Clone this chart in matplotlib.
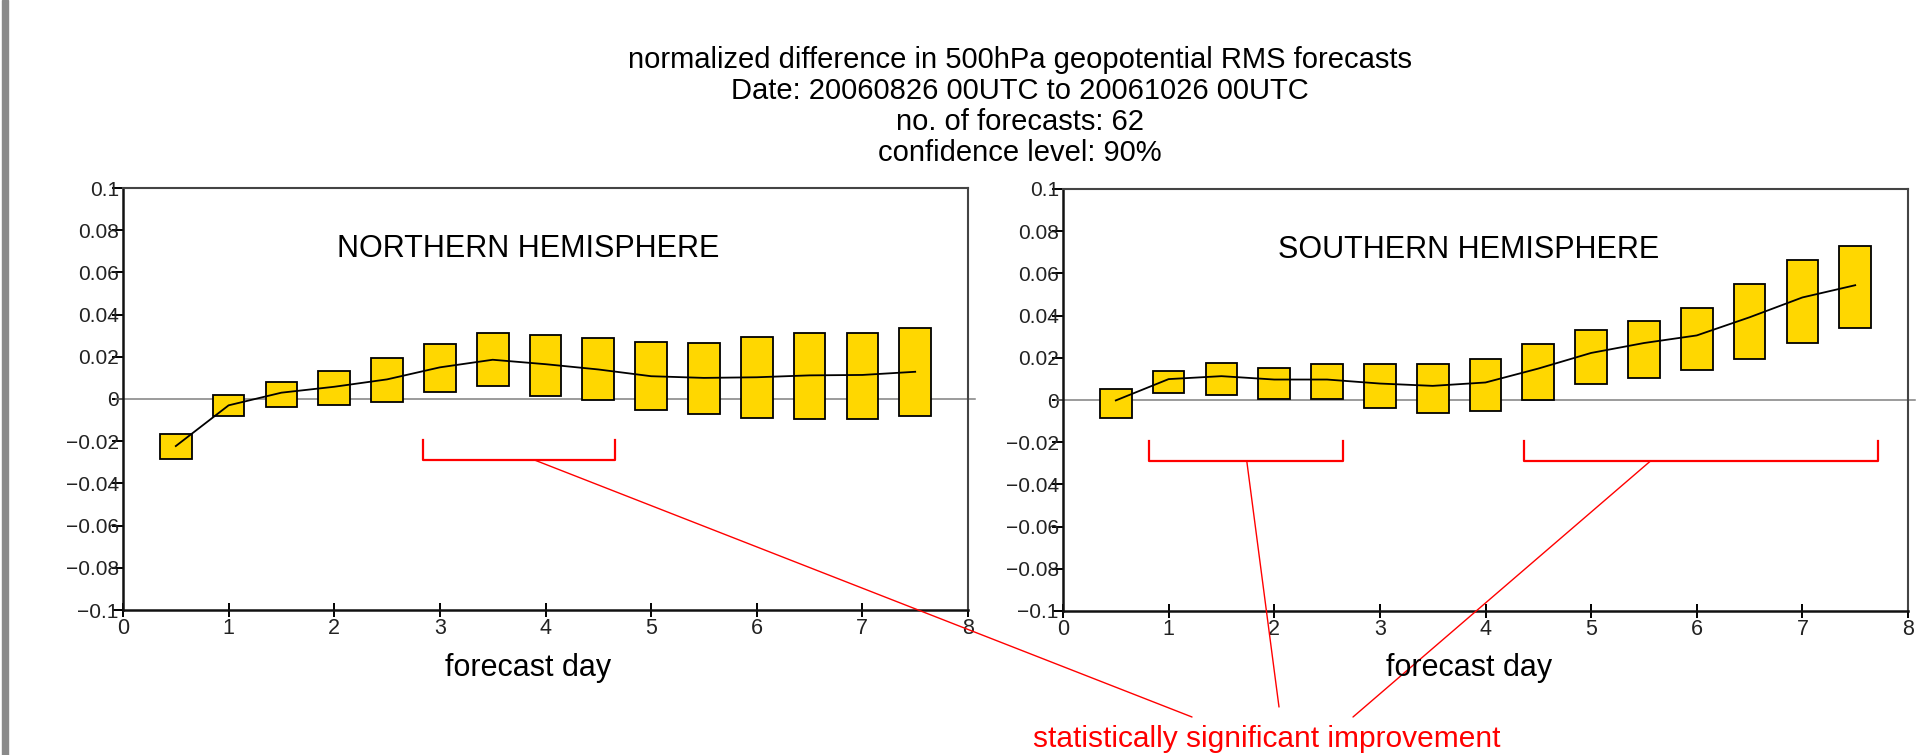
import matplotlib
matplotlib.use("Agg")
import matplotlib.pyplot as plt
from matplotlib.patches import Rectangle
import numpy as np

plt.rcParams['font.family'] = ['Liberation Sans', 'DejaVu Sans']

# ---------------- data ----------------
days = [0.5, 1.0, 1.5, 2.0, 2.5, 3.0, 3.5, 4.0, 4.5, 5.0, 5.5, 6.0, 6.5, 7.0, 7.5]

nh_upper = [-0.0167, 0.0020, 0.0082, 0.0135, 0.0195, 0.0263, 0.0311, 0.0305,
            0.0289, 0.0269, 0.0267, 0.0296, 0.0313, 0.0313, 0.0336]
nh_lower = [-0.0286, -0.0079, -0.0036, -0.0027, -0.0016, 0.0035, 0.0060, 0.0016,
            -0.0006, -0.0050, -0.0069, -0.0091, -0.0093, -0.0093, -0.0079]
nh_mean = [-0.0223, -0.0030, 0.0030, 0.0058, 0.0093, 0.0150, 0.0186, 0.0165,
           0.0140, 0.0108, 0.0100, 0.0103, 0.0112, 0.0114, 0.0129]

sh_upper = [0.0052, 0.0139, 0.0174, 0.0154, 0.0171, 0.0171, 0.0172, 0.0196,
            0.0265, 0.0332, 0.0376, 0.0436, 0.0552, 0.0663, 0.0730]
sh_lower = [-0.0086, 0.0033, 0.0025, 0.0005, 0.0005, -0.0038, -0.0061, -0.0053,
            0.0000, 0.0075, 0.0102, 0.0141, 0.0194, 0.0271, 0.0339]
sh_mean = [-0.0002, 0.0099, 0.0113, 0.0097, 0.0097, 0.0078, 0.0067, 0.0083,
           0.0149, 0.0223, 0.0270, 0.0306, 0.0392, 0.0486, 0.0544]

xticks = [0, 1, 2, 3, 4, 5, 6, 7, 8]
yticks = [-0.1, -0.08, -0.06, -0.04, -0.02, 0, 0.02, 0.04, 0.06, 0.08, 0.1]
ytick_labels = ['\u22120.1', '\u22120.08', '\u22120.06', '\u22120.04', '\u22120.02', '0',
                '0.02', '0.04', '0.06', '0.08', '0.1']

title_lines = ["normalized difference in 500hPa geopotential RMS forecasts",
               "Date: 20060826 00UTC to 20061026 00UTC",
               "no. of forecasts: 62",
               "confidence level: 90%"]

# significance brackets (start day, end day) and connector start day
nh_sig = [(2.84, 4.66)]
nh_conn = [3.9]
sh_sig = [(0.815, 2.65), (4.36, 7.72)]
sh_conn = [1.74, 5.56]

# ---------------- figure ----------------
W, H = 1929, 755
fig = plt.figure(figsize=(W / 100, H / 100), dpi=100)
fig.patch.set_facecolor('white')

def fx(px):
    return px / W

def fy(py):
    return 1 - py / H

fig.patches.append(Rectangle((fx(2), 0), fx(6), 1, transform=fig.transFigure,
                             color='#8a8a8a', zorder=0))

ax_l = fig.add_axes([fx(123), fy(610), fx(968) - fx(123), fy(188) - fy(610)])
ax_r = fig.add_axes([fx(1063), fy(611), fx(1908) - fx(1063), fy(189) - fy(611)])

yellow = '#FFD700'
red = '#FF0000'

def draw_panel(ax, upper, lower, mean, label, sig, conn, ends):
    up = np.array(upper)
    lo = np.array(lower)
    ax.plot([-0.07, 8.07], [0, 0], color='#808080', lw=1.1, clip_on=False, zorder=2)
    ax.bar(days, up - lo, bottom=lo, width=0.3, color=yellow, edgecolor='black',
           linewidth=1.3, zorder=3)
    ax.plot(days, mean, color='black', lw=1.3, zorder=4)
    ax.set_xlim(0, 8)
    ax.set_ylim(-0.1, 0.1)
    ax.set_xticks(xticks)
    ax.set_xticklabels([str(t) for t in xticks])
    ax.set_yticks(yticks)
    ax.set_yticklabels(ytick_labels)
    ax.tick_params(axis='y', direction='out', length=8, width=1.4, pad=-5,
                   labelsize=15, labelcolor='#222222')
    ax.tick_params(axis='x', direction='inout', length=10, width=1.4, pad=1,
                   labelsize=15.5, labelcolor='#222222')
    for s in ['left', 'bottom']:
        ax.spines[s].set_linewidth(1.8)
        ax.spines[s].set_color('#111111')
    for s in ['top', 'right']:
        ax.spines[s].set_linewidth(1.5)
        ax.spines[s].set_color('#444444')
    ax.text(3.84, 0.0711, label, ha='center', va='center', fontsize=22)
    for (a, b), c, e in zip(sig, conn, ends):
        ax.plot([a, a, b, b], [-0.0192, -0.029, -0.029, -0.0192], color=red, lw=1.6,
                clip_on=False, zorder=5)
        ax.annotate('', xy=(c, -0.029), xycoords='data', xytext=e,
                    textcoords='figure fraction',
                    arrowprops=dict(arrowstyle='-', color=red, lw=1.0,
                                    shrinkA=0, shrinkB=0),
                    annotation_clip=False, zorder=6)

draw_panel(ax_l, nh_upper, nh_lower, nh_mean, 'NORTHERN HEMISPHERE', nh_sig, nh_conn,
           [(fx(1192), fy(717))])
draw_panel(ax_r, sh_upper, sh_lower, sh_mean, 'SOUTHERN HEMISPHERE', sh_sig, sh_conn,
           [(fx(1279), fy(707)), (fx(1353), fy(717))])

fig.text(fx(528), fy(668), 'forecast day', ha='center', va='center', fontsize=22)
fig.text(fx(1469), fy(668), 'forecast day', ha='center', va='center', fontsize=22)

for i, line in enumerate(title_lines):
    fig.text(fx(1020), fy(68 + 31 * i), line, ha='center', va='baseline', fontsize=21)

fig.text(fx(1267), fy(747), 'statistically significant improvement', ha='center',
         va='baseline', fontsize=21.5, color=red)

fig.savefig('out.png', dpi=100)
